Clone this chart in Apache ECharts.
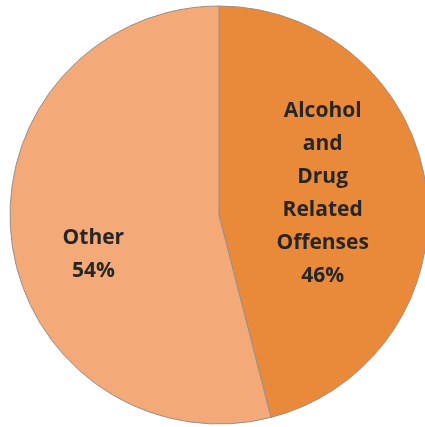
<!DOCTYPE html>
<html><head><meta charset="utf-8">
<script src="https://cdn.jsdelivr.net/npm/echarts@6/dist/echarts.min.js"></script>
<style>html,body{margin:0;padding:0;background:#fff}#c{width:425px;height:427px}</style>
</head><body><div id="c"></div>
<script>
const categories = ['Alcohol\nand\nDrug\nRelated\nOffenses', 'Other'];
const values = [46, 54];
const colors = ['#E98A3B', '#F4AA78'];
const offsets = [[-3, -8], [-19, 26]];
const chart = echarts.init(document.getElementById('c'));
chart.setOption({
  animation: false,
  series: [{
    type: 'pie',
    center: [219, 215],
    radius: [0, 209],
    startAngle: 90,
    clockwise: true,
    data: categories.map((n, i) => ({
      name: n, value: values[i],
      itemStyle: { color: colors[i] },
      label: { offset: offsets[i] }
    })),
    itemStyle: { borderColor: '#9c8e86', borderWidth: 1 },
    label: {
      show: true, position: 'inside',
      formatter: p => p.name + '\n' + p.value + '%',
      fontFamily: 'Open Sans', fontWeight: 'bold', fontSize: 21,
      lineHeight: 33, color: '#262626', align: 'center'
    },
    labelLine: { show: false },
    emphasis: { disabled: true }
  }]
});
</script></body></html>
